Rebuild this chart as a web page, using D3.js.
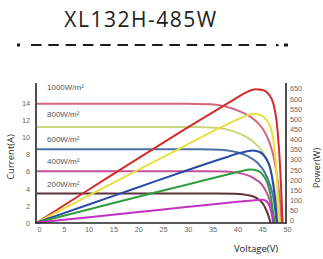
<!DOCTYPE html>
<html>
<head>
<meta charset="utf-8">
<script src="https://cdn.jsdelivr.net/npm/d3@7"></script>
<style>
  body { margin: 0; background: #fff; }
  svg { display: block; }
  .tick text { font-family: "Liberation Sans", Arial, sans-serif; font-size: 7.3px; fill: #666; }
</style>
</head>
<body>
<script>
const title = "XL132H-485W";
const irradiance = ["1000W/m²", "800W/m²", "600W/m²", "400W/m²", "200W/m²"];
const voltTicks = [0, 5, 10, 15, 20, 25, 30, 35, 40, 45, 50];
const currentTicks = [0, 2, 4, 6, 8, 10, 12, 14];
const powerTicks = [0, 50, 100, 150, 200, 250, 300, 350, 400, 450, 500, 550, 600, 650];

// I-V curves [voltage, current]
const iv1000 = [[0,13.9],[30,13.9],[35,13.85],[38,13.6],[41,13.0],[43.5,12.2],[45.5,11.0],[46.8,9.5],[47.8,7.5],[48.5,5],[49,2.5],[49.3,0]];
const iv800 = [[0,11.2],[32,11.2],[36,11.1],[39,10.8],[42,10.1],[44.5,9.0],[46,7.8],[47.2,6],[48,3.8],[48.5,1.6],[48.8,0]];
const iv600 = [[0,8.6],[33,8.6],[37,8.55],[40,8.3],[42.5,7.8],[44.5,7.0],[46,5.8],[47,4.4],[47.8,2.5],[48.3,0]];
const iv400 = [[0,6.05],[34,6.05],[38,6.0],[41,5.8],[43.5,5.3],[45.3,4.5],[46.5,3.3],[47.3,1.8],[47.8,0]];
const iv200 = [[0,3.45],[36,3.45],[40,3.4],[42.5,3.25],[44.3,2.9],[45.5,2.3],[46.3,1.4],[46.8,0.6],[47.1,0]];

// P-V curves [voltage, power]
const pv1000 = [[0,0],[10,155],[20,310],[30,462],[37,566],[40,610],[42,638],[44,656],[45.5,652],[46.7,632],[47.6,590],[48.3,500],[48.8,360],[49.2,180],[49.5,0]];
const pv800 = [[0,0],[10,127],[20,254],[30,380],[36.5,462],[40,503],[42,524],[43.5,535],[45,530],[46,512],[47,475],[47.7,400],[48.2,280],[48.6,130],[48.9,0]];
const pv600 = [[0,0],[10,85],[20,170],[30,255],[38,320],[41,343],[43.5,355],[45,346],[46,322],[47,270],[47.6,190],[48.1,90],[48.4,0]];
const pv400 = [[0,0],[10,62],[20,124],[30,185],[38,234],[41,252],[43,261],[44.5,255],[45.5,236],[46.5,190],[47.2,120],[47.6,50],[47.9,0]];
const pv200 = [[0,0],[10,25],[20,50],[30,76],[40,101],[44,110],[45.5,112],[46.3,104],[46.9,80],[47.3,45],[47.6,0]];

const ivSeries = [iv1000, iv800, iv600, iv400, iv200];
const pvSeries = [pv1000, pv800, pv600, pv400, pv200];
const ivColors = ["#d4667e", "#c9d87a", "#4c70a8", "#c4509c", "#5c3238"];
const pvColors = ["#d42b2b", "#e8e03e", "#2a48a6", "#2f9e3d", "#c232c2"];

const W = 323, H = 259;
const svg = d3.select("body").append("svg").attr("width", W).attr("height", H);

svg.append("text")
  .attr("x", 141).attr("y", 27)
  .attr("text-anchor", "middle")
  .style("font-family", "'Open Sans', sans-serif")
  .style("font-size", "21px")
  .style("letter-spacing", "1.5px")
  .style("fill", "#222")
  .text(title);

// dashed separator
const sep = svg.append("g").attr("fill", "#231815");
sep.append("rect").attr("x", 17).attr("y", 43.5).attr("width", 3).attr("height", 3);
svg.append("line")
  .attr("x1", 31).attr("x2", 270).attr("y1", 45).attr("y2", 45)
  .attr("stroke", "#231815").attr("stroke-width", 2.2)
  .attr("stroke-dasharray", "10.5,6.8");
sep.append("rect").attr("x", 276).attr("y", 44).attr("width", 2.5).attr("height", 2.2);
sep.append("rect").attr("x", 284).attr("y", 43.5).attr("width", 4).attr("height", 3);

const x = d3.scaleLinear().domain([0, 50]).range([37, 285]);
const yI = d3.scaleLinear().domain([0, 14]).range([223, 103]);
const yP = d3.scaleLinear().domain([0, 650]).range([222.5, 90.5]);

const ivLine = d3.line().x(d => x(d[0])).y(d => yI(d[1])).curve(d3.curveMonotoneX);
const pvLine = d3.line().x(d => x(d[0])).y(d => yP(d[1])).curve(d3.curveMonotoneX);

const curves = svg.append("g").attr("fill", "none").attr("stroke-width", 2);
ivSeries.forEach((s, i) => {
  curves.append("path").attr("d", ivLine(s)).attr("stroke", ivColors[i]);
});
pvSeries.forEach((s, i) => {
  curves.append("path").attr("d", pvLine(s)).attr("stroke", pvColors[i]);
});

// irradiance labels
const labelY = [90, 117, 142, 164, 187];
svg.append("g").selectAll("text").data(irradiance).enter().append("text")
  .attr("x", 47).attr("y", (d, i) => labelY[i])
  .style("font-family", "'Liberation Sans', Arial, sans-serif")
  .style("font-size", "8px")
  .style("fill", "#555")
  .text(d => d);

// axes
const xAxis = d3.axisBottom(x).tickValues(voltTicks).tickSize(0).tickPadding(4);
const gx = svg.append("g").attr("transform", "translate(2,223)").call(xAxis);
gx.select(".domain").remove();

const yAxisL = d3.axisLeft(yI).tickValues(currentTicks).tickSize(0).tickPadding(6);
const gl = svg.append("g").attr("transform", "translate(36,0)").call(yAxisL);
gl.select(".domain").remove();

const yAxisR = d3.axisRight(yP).tickValues(powerTicks).tickSize(0).tickPadding(4);
const gr = svg.append("g").attr("transform", "translate(286,0)").call(yAxisR);
gr.select(".domain").remove();
gr.selectAll("text").attr("dy", "0.05em");

const axisLines = svg.append("g").attr("stroke", "#222").attr("stroke-width", 1.6);
axisLines.append("line").attr("x1", 36).attr("x2", 36).attr("y1", 83).attr("y2", 223.5);
axisLines.append("line").attr("x1", 286).attr("x2", 286).attr("y1", 83).attr("y2", 223.5);
axisLines.append("line").attr("x1", 35.2).attr("x2", 286.8).attr("y1", 223).attr("y2", 223);

// axis titles
svg.append("text")
  .attr("transform", "translate(14,157) rotate(-90)")
  .attr("text-anchor", "middle")
  .style("font-family", "'Open Sans', sans-serif").style("font-size", "9.5px").style("fill", "#333")
  .text("Current(A)");
svg.append("text")
  .attr("transform", "translate(320,168) rotate(-90)")
  .attr("text-anchor", "middle")
  .style("font-family", "'Open Sans', sans-serif").style("font-size", "9px").style("fill", "#333")
  .text("Power(W)");
svg.append("text")
  .attr("x", 256).attr("y", 252)
  .attr("text-anchor", "middle")
  .style("font-family", "'Open Sans', sans-serif").style("font-size", "9.5px").style("fill", "#222")
  .text("Voltage(V)");
</script>
</body>
</html>
